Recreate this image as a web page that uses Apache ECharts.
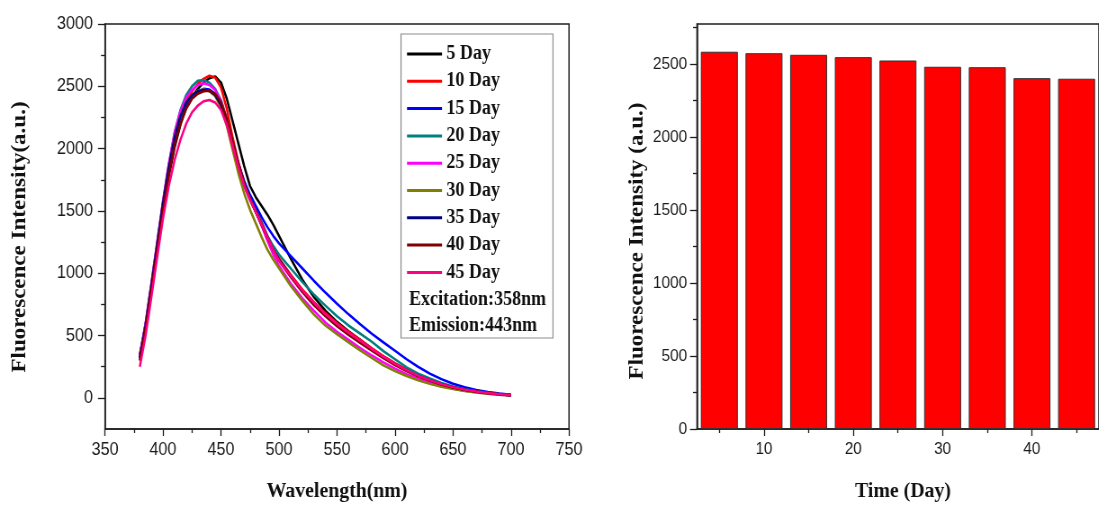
<!DOCTYPE html>
<html>
<head>
<meta charset="utf-8">
<script src="https://cdn.jsdelivr.net/npm/echarts@6/dist/echarts.min.js"></script>
<style>
  html, body { margin: 0; padding: 0; background: #fff; overflow: hidden; }
  #wrap { width: 1099px; height: 506px; overflow: hidden; }
  #chart { height: 506px; transform-origin: 0 0; }
</style>
</head>
<body>
<div id="wrap"><div id="chart"></div></div>
<script>
// ---- emission spectra (wavelength in nm, intensity in a.u.) ----
const wavelength = [380, 385, 390, 395, 400, 405, 410, 415, 420, 425, 430, 435, 440, 445, 450, 455, 460, 465, 470, 475, 480, 485, 490, 495,
  500, 510, 520, 530, 540, 550, 560, 570, 580, 590, 600, 610, 620, 630, 640, 650, 660, 670, 680, 690, 700];

const day5  = [320, 560, 860, 1180, 1490, 1780, 2010, 2190, 2330, 2420, 2480, 2530, 2565, 2580, 2530, 2400, 2220, 2040, 1860, 1700, 1610, 1540, 1470, 1390,
  1300, 1120, 950, 810, 700, 610, 535, 465, 395, 330, 272, 222, 178, 143, 110, 86, 66, 50, 38, 28, 21];
const day10 = [350, 590, 900, 1220, 1540, 1830, 2070, 2250, 2380, 2460, 2520, 2560, 2585, 2570, 2490, 2320, 2090, 1890, 1730, 1610, 1510, 1410, 1300, 1200,
  1120, 990, 870, 770, 680, 600, 530, 465, 398, 335, 278, 228, 183, 146, 114, 88, 68, 52, 40, 30, 22];
const day15 = [340, 590, 900, 1230, 1560, 1850, 2090, 2250, 2360, 2420, 2460, 2480, 2475, 2440, 2360, 2230, 2050, 1880, 1740, 1630, 1540, 1450, 1370, 1300,
  1240, 1140, 1040, 940, 845, 755, 670, 590, 515, 445, 378, 310, 248, 195, 150, 113, 85, 63, 47, 34, 25];
const day20 = [330, 600, 920, 1250, 1580, 1870, 2130, 2310, 2430, 2500, 2545, 2550, 2530, 2480, 2390, 2240, 2050, 1870, 1720, 1600, 1500, 1400, 1300, 1220,
  1150, 1040, 930, 830, 740, 655, 580, 515, 450, 375, 310, 245, 195, 155, 120, 92, 70, 54, 41, 31, 23];
const day25 = [330, 600, 920, 1250, 1580, 1880, 2130, 2300, 2410, 2470, 2510, 2525, 2510, 2470, 2380, 2230, 2030, 1850, 1700, 1590, 1490, 1380, 1260, 1150,
  1060, 920, 800, 700, 605, 530, 465, 400, 340, 285, 235, 190, 155, 122, 95, 74, 57, 44, 34, 25, 19];
const day30 = [300, 570, 890, 1220, 1550, 1840, 2090, 2260, 2370, 2430, 2465, 2475, 2460, 2420, 2330, 2180, 1990, 1800, 1640, 1510, 1400, 1290, 1190, 1110,
  1040, 900, 780, 670, 580, 510, 445, 380, 320, 260, 215, 175, 140, 112, 88, 70, 54, 42, 32, 24, 18];
const day35 = [320, 580, 900, 1230, 1560, 1850, 2090, 2260, 2370, 2430, 2460, 2470, 2465, 2430, 2350, 2210, 2030, 1860, 1710, 1590, 1490, 1390, 1290, 1190,
  1110, 980, 860, 760, 665, 585, 515, 450, 385, 325, 268, 220, 177, 141, 110, 85, 65, 50, 38, 29, 21];
const day40 = [300, 560, 870, 1190, 1510, 1790, 2030, 2200, 2320, 2400, 2440, 2460, 2465, 2440, 2370, 2240, 2060, 1880, 1720, 1600, 1495, 1390, 1290, 1190,
  1100, 970, 850, 745, 655, 575, 505, 440, 378, 318, 262, 215, 173, 138, 107, 83, 64, 49, 37, 28, 20];
const day45 = [250, 500, 810, 1130, 1440, 1700, 1910, 2070, 2200, 2290, 2345, 2380, 2390, 2370, 2310, 2190, 2020, 1850, 1700, 1590, 1490, 1390, 1290, 1190,
  1100, 980, 865, 765, 672, 592, 522, 458, 392, 330, 272, 222, 178, 142, 110, 86, 66, 51, 39, 29, 22];

const spectrumNames = ['5 Day', '10 Day', '15 Day', '20 Day', '25 Day', '30 Day', '35 Day', '40 Day', '45 Day'];
const spectra = [day5, day10, day15, day20, day25, day30, day35, day40, day45];

// ---- peak intensity versus storage time ----
const storageDays = [5, 10, 15, 20, 25, 30, 35, 40, 45];
const peakIntensity = [2585, 2575, 2564, 2548, 2525, 2482, 2479, 2404, 2400];

// ---- tick values ----
const wavelengthTicks = [350, 400, 450, 500, 550, 600, 650, 700, 750];
const wavelengthMinorTicks = [375, 425, 475, 525, 575, 625, 675, 725];
const spectrumTicks = [0, 500, 1000, 1500, 2000, 2500, 3000];
const spectrumMinorTicks = [250, 750, 1250, 1750, 2250, 2750];
const dayTicks = [10, 20, 30, 40];
const dayMinorTicks = [5, 15, 25, 35, 45];
const barTicks = [0, 500, 1000, 1500, 2000, 2500];
const barMinorTicks = [250, 750, 1250, 1750, 2250, 2750];

// ---- styling ----
const lineColors = ['#000000', '#FF0000', '#0000FF', '#008080', '#FF00FF', '#808000', '#000080', '#800000', '#FF0080'];
const AXIS = '#1e1e1e';
const SANS = '"Liberation Sans", Arial, sans-serif';
const SERIF = '"Liberation Serif", "Times New Roman", serif';
const SX = 0.9;                       // horizontal squeeze of the whole figure
const sx = v => v / SX;               // screen x -> chart x
const W = 1099 / SX;

const el = document.getElementById('chart');
el.style.width = W + 'px';
el.style.transform = 'scaleX(' + SX + ')';

const zip = (xs, ys) => xs.map((x, i) => [x, ys[i]]);

function axis(kind, o) {
  const vertical = kind === 'y';
  const major = o.labels !== false;
  return {
    type: 'value',
    gridIndex: o.grid,
    position: vertical ? 'left' : 'bottom',
    min: o.min, max: o.max,
    axisLine: { show: major, onZero: false, lineStyle: { color: AXIS, width: 1.5 } },
    axisTick: {
      show: true, inside: false, customValues: o.ticks,
      length: vertical ? sx(major ? 7 : 4) : (major ? 7 : 4),
      lineStyle: { color: AXIS, width: 1.3 }
    },
    axisLabel: major ? {
      customValues: o.ticks, color: '#1a1a1a', fontFamily: SANS, fontSize: o.fs,
      margin: vertical ? sx(o.margin) : o.margin,
      formatter: v => String(v)
    } : { show: false },
    splitLine: { show: false }, minorTick: { show: false }
  };
}

const lineSeries = spectra.map((vals, i) => ({
  name: spectrumNames[i], type: 'line', xAxisIndex: 0, yAxisIndex: 0,
  data: zip(wavelength, vals), showSymbol: false, symbol: 'none',
  lineStyle: { color: lineColors[i], width: 2.5 }, itemStyle: { color: lineColors[i] },
  animation: false, z: 3
}));

const titleText = (text, x, y, size, rotate) => ({
  type: 'text', x: sx(x), y: y, rotation: rotate ? Math.PI / 2 : 0,
  style: { text: text, align: 'center', verticalAlign: 'middle', fill: '#111',
    font: 'bold ' + size + 'px ' + SERIF }
});

const option = {
  animation: false,
  backgroundColor: '#fff',
  grid: [
    { left: sx(105), top: 24, width: sx(464), height: 405, show: true, borderColor: AXIS, borderWidth: 1.5, backgroundColor: 'transparent' },
    { left: sx(697), top: 24, width: sx(408), height: 405, show: true, borderColor: AXIS, borderWidth: 1.5, backgroundColor: 'transparent' }
  ],
  xAxis: [
    axis('x', { grid: 0, min: 350, max: 750, ticks: wavelengthTicks, fs: 18, margin: 12 }),
    axis('x', { grid: 0, min: 350, max: 750, ticks: wavelengthMinorTicks, labels: false }),
    axis('x', { grid: 1, min: 2.5, max: 47.5, ticks: dayTicks, fs: 17, margin: 12 }),
    axis('x', { grid: 1, min: 2.5, max: 47.5, ticks: dayMinorTicks, labels: false })
  ],
  yAxis: [
    axis('y', { grid: 0, min: -250, max: 3000, ticks: spectrumTicks, fs: 18, margin: 12 }),
    axis('y', { grid: 0, min: -250, max: 3000, ticks: spectrumMinorTicks, labels: false }),
    axis('y', { grid: 1, min: 0, max: 2775, ticks: barTicks, fs: 17, margin: 10 }),
    axis('y', { grid: 1, min: 0, max: 2775, ticks: barMinorTicks, labels: false })
  ],
  legend: {
    data: spectrumNames, orient: 'vertical', left: sx(407), top: 43, padding: 0,
    icon: 'rect', itemWidth: sx(35), itemHeight: 3, itemGap: 5.3, selectedMode: false,
    textStyle: { color: '#111', fontFamily: SERIF, fontWeight: 'bold', fontSize: 20, lineHeight: 22 }
  },
  graphic: [
    { type: 'rect', shape: { x: sx(401), y: 34, width: sx(152), height: 304 },
      style: { fill: 'none', stroke: '#8c8c8c', lineWidth: 1.2 }, z: 1 },
    { type: 'text', x: sx(409), y: 300,
      style: { text: 'Excitation:358nm', align: 'left', verticalAlign: 'middle', fill: '#111', font: 'bold 20px ' + SERIF } },
    { type: 'text', x: sx(409), y: 326,
      style: { text: 'Emission:443nm', align: 'left', verticalAlign: 'middle', fill: '#111', font: 'bold 20px ' + SERIF } },
    titleText('Fluorescence Intensity(a.u.)', 20, 237, 23, true),
    titleText('Wavelength(nm)', 337, 491, 22, false),
    titleText('Fluorescence Intensity (a.u.)', 637, 241, 23, true),
    titleText('Time (Day)', 903, 491, 22, false)
  ],
  series: lineSeries.concat([{
    name: 'Peak', type: 'bar', xAxisIndex: 2, yAxisIndex: 2,
    data: zip(storageDays, peakIntensity), barWidth: sx(37),
    itemStyle: { color: '#FF0000', borderColor: '#333', borderWidth: 1 },
    animation: false
  }])
};

const chart = echarts.init(el, null, { renderer: 'canvas' });
chart.setOption(option);
</script>
</body>
</html>
